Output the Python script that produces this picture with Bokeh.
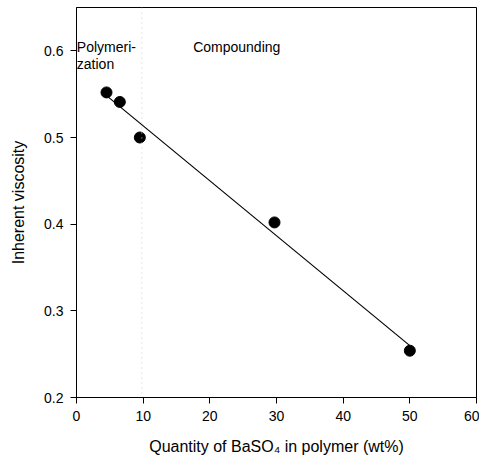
import numpy as np
from bokeh.plotting import figure
from bokeh.models import Range1d, FixedTicker, Label, Span
from bokeh.embed import file_html
from bokeh.resources import INLINE

# data
baso4_wt = [4.5, 6.5, 9.5, 29.7, 50.0]
inherent_visc = [0.552, 0.541, 0.500, 0.402, 0.254]
x_ticks = [0, 10, 20, 30, 40, 50, 60]
y_ticks = [0.2, 0.3, 0.4, 0.5, 0.6]

FONT = "Liberation Sans"

p = figure(width=479, height=457, output_backend="svg", toolbar_location=None,
           x_range=Range1d(0, 60), y_range=Range1d(0.2, 0.65),
           min_border_left=76, min_border_right=3, min_border_top=7, min_border_bottom=58)
p.grid.visible = False
p.outline_line_color = "black"
p.outline_line_width = 1
p.background_fill_color = "white"
p.border_fill_color = "white"

for ax in (p.xaxis[0], p.yaxis[0]):
    ax.axis_line_color = "black"
    ax.major_tick_line_color = "black"
    ax.minor_tick_line_color = None
    ax.major_tick_out = 6
    ax.major_tick_in = 0
    ax.major_label_text_font = FONT
    ax.major_label_text_font_size = "14px"
    ax.major_label_text_color = "black"
    ax.axis_label_text_font = FONT
    ax.axis_label_text_font_size = "16px"
    ax.axis_label_text_font_style = "normal"
    ax.axis_label_text_color = "black"
    ax.major_label_standoff = 7

p.xaxis.ticker = FixedTicker(ticks=x_ticks)
p.yaxis.ticker = FixedTicker(ticks=y_ticks)
p.xaxis.axis_label = "Quantity of BaSO\u2084 in polymer (wt%)"
p.yaxis.axis_label = "Inherent viscosity"
p.xaxis.axis_label_standoff = 14
p.yaxis.axis_label_standoff = 14

# faint separator at the polymerization/compounding boundary
p.add_layout(Span(location=9.8, dimension="height", line_color="#cccccc",
                  line_dash="1 4", line_width=1))

# linear fit line
coef = np.polyfit(baso4_wt, inherent_visc, 1)
xs = np.array([min(baso4_wt), max(baso4_wt)])
p.line(xs, np.polyval(coef, xs), line_color="black", line_width=1.2)

p.scatter(baso4_wt, inherent_visc, size=11, marker="circle",
          fill_color="black", line_color="black")

for txt, x, y in [("Polymeri-", 0.05, 0.605), ("zation", 0.05, 0.585), ("Compounding", 17.5, 0.605)]:
    p.add_layout(Label(x=x, y=y, text=txt, text_font=FONT, text_font_size="14px",
                       text_color="black", text_baseline="alphabetic"))

open("out.html", "w").write(file_html(p, INLINE))
